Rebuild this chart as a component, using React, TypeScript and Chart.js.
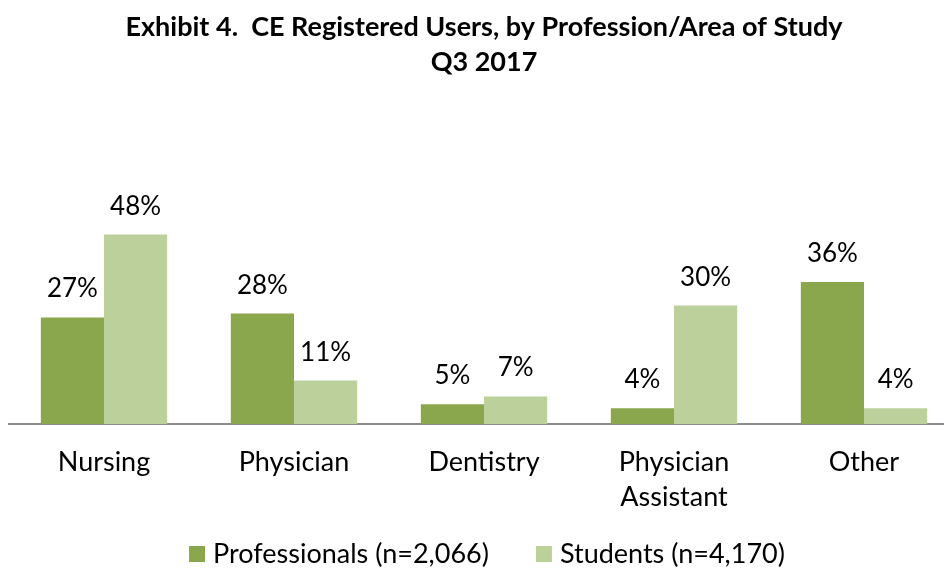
import React, { useEffect, useRef } from "react";
import { Chart, registerables } from "chart.js";

Chart.register(...registerables);

const titleLines = ["Exhibit 4.  CE Registered Users, by Profession/Area of Study", "Q3 2017"];
const categories: (string | string[])[] = ["Nursing", "Physician", "Dentistry", ["Physician", "Assistant"], "Other"];
const professionals = [27, 28, 5, 4, 36];
const students = [48, 11, 7, 30, 4];
const seriesNames = ["Professionals (n=2,066)", "Students (n=4,170)"];
const colors = ["#8aa74e", "#bbd09a"];

const FONT = "Lato, 'Noto Sans', sans-serif";

const valueLabels = {
  id: "valueLabels",
  afterDatasetsDraw(chart: any) {
    const ctx = chart.ctx;
    ctx.save();
    ctx.font = `26px ${FONT}`;
    ctx.fillStyle = "#000";
    ctx.textAlign = "center";
    ctx.textBaseline = "alphabetic";
    chart.data.datasets.forEach((ds: any, i: number) => {
      const meta = chart.getDatasetMeta(i);
      meta.data.forEach((bar: any, j: number) => {
        ctx.fillText(`${ds.data[j]}%`, bar.x, bar.y - 20);
      });
    });
    ctx.restore();
  },
};

// Legend drawn below the axis, from the datasets' labels and colours
const bottomLegend = {
  id: "bottomLegend",
  afterDraw(chart: any) {
    const ctx = chart.ctx;
    const box = 16;
    const boxGap = 8;
    const itemGap = 47;
    const cy = 554;
    const centerX = 487;
    ctx.save();
    ctx.font = `27px ${FONT}`;
    ctx.textBaseline = "middle";
    ctx.textAlign = "left";
    const items = chart.data.datasets.map((ds: any) => ({
      text: ds.label,
      color: ds.backgroundColor,
      w: ctx.measureText(ds.label).width,
    }));
    let total = 0;
    items.forEach((it: any, i: number) => {
      total += box + boxGap + it.w + (i < items.length - 1 ? itemGap : 0);
    });
    let x = centerX - total / 2;
    items.forEach((it: any) => {
      ctx.fillStyle = it.color;
      ctx.fillRect(x, cy - box / 2, box, box);
      x += box + boxGap;
      ctx.fillStyle = "#000";
      ctx.fillText(it.text, x, cy);
      x += it.w + itemGap;
    });
    ctx.restore();
  },
};

export default function App() {
  const ref = useRef<HTMLCanvasElement>(null);
  useEffect(() => {
    document.body.style.margin = "0";
    document.body.style.overflow = "hidden";
    const chart = new Chart(ref.current!, {
      type: "bar",
      data: {
        labels: categories,
        datasets: [
          { label: seriesNames[0], data: professionals, backgroundColor: colors[0], borderWidth: 0 },
          { label: seriesNames[1], data: students, backgroundColor: colors[1], borderWidth: 0 },
        ],
      },
      options: {
        responsive: false,
        animation: false,
        devicePixelRatio: 1,
        layout: { padding: { left: 9, right: 9, top: 0, bottom: 33 } },
        datasets: { bar: { categoryPercentage: 0.665, barPercentage: 1 } },
        scales: {
          x: {
            grid: { display: false, drawTicks: false, tickLength: 0 },
            border: { display: true, color: "#8c8c8c", width: 2 },
            ticks: {
              font: { family: FONT, size: 27, lineHeight: 1.296 },
              color: "#000",
              padding: 21,
              maxRotation: 0,
              autoSkip: false,
            },
          },
          y: { display: false, min: 0, max: 60 },
        },
        plugins: {
          title: {
            display: true,
            text: titleLines,
            color: "#000",
            font: { family: FONT, size: 27, weight: "bold", lineHeight: 1.3 },
            padding: { top: 9.5, bottom: 107.5 },
          },
          legend: { display: false },
          tooltip: { enabled: false },
        },
      },
      plugins: [valueLabels, bottomLegend],
    });
    return () => chart.destroy();
  }, []);
  return (
    <div style={{ width: 944, height: 569, overflow: "hidden" }}>
      <canvas ref={ref} width={968} height={569} style={{ display: "block" }} />
    </div>
  );
}
